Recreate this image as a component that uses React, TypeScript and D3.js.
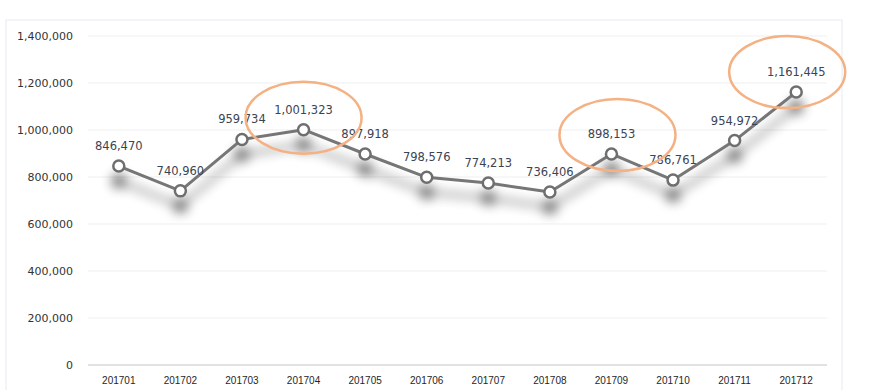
import * as d3 from "d3";

const months = [
  "201701", "201702", "201703", "201704", "201705", "201706",
  "201707", "201708", "201709", "201710", "201711", "201712",
];
const values = [
  846470, 740960, 959734, 1001323, 897918, 798576,
  774213, 736406, 898153, 786761, 954972, 1161445,
];
const yTicks = [0, 200000, 400000, 600000, 800000, 1000000, 1200000, 1400000];
const highlighted = ["201704", "201709", "201712"];

export default function App() {
  const width = 880;
  const height = 390;
  const plot = { left: 88, right: 827, top: 36, bottom: 365 };

  const x = d3.scaleBand().domain(months).range([plot.left, plot.right]);
  const y = d3.scaleLinear().domain([0, 1400000]).range([plot.bottom, plot.top]);
  const cx = (m: string) => (x(m) ?? 0) + x.bandwidth() / 2;
  const fmt = d3.format(",");

  const line = d3
    .line<number>()
    .x((_, i) => cx(months[i]))
    .y((d) => y(d));

  // ellipse placement around highlighted points (offset from the point)
  const ringOffset: Record<string, [number, number]> = {
    "201704": [0, -12],
    "201709": [6, -19],
    "201712": [-9, -20],
  };

  return (
    <svg
      width={width}
      height={height}
      style={{ position: "absolute", left: 0, top: 0, background: "#fff" }}
    >
      <defs>
        <filter id="shadow" x="-10%" y="-30%" width="120%" height="180%">
          <feGaussianBlur in="SourceAlpha" stdDeviation="6" />
          <feOffset dx="0" dy="15" result="blur" />
          <feComponentTransfer>
            <feFuncA type="linear" slope="0.6" />
          </feComponentTransfer>
        </filter>
      </defs>

      <rect x={6} y={20} width={836} height={400} fill="none" stroke="#e4ecf2" />

      {yTicks.map((t) => (
        <g key={t}>
          <line
            x1={plot.left}
            x2={plot.right}
            y1={y(t)}
            y2={y(t)}
            stroke={t === 0 ? "#d9d9d9" : "#efefef"}
            strokeWidth={t === 0 ? 1.5 : 1}
          />
          <text
            x={73}
            y={y(t)}
            dy="0.35em"
            textAnchor="end"
            fontFamily="DejaVu Sans"
            fontSize={11}
            fill="#333"
          >
            {fmt(t)}
          </text>
        </g>
      ))}

      {months.map((m) => (
        <text
          key={m}
          x={cx(m)}
          y={384}
          textAnchor="middle"
          fontFamily="Liberation Sans"
          fontSize={10}
          fill="#262626"
        >
          {m}
        </text>
      ))}

      <g filter="url(#shadow)">
        <path d={line(values) ?? ""} fill="none" stroke="#000" strokeWidth={3} />
        {values.map((v, i) => (
          <circle key={i} cx={cx(months[i])} cy={y(v)} r={7} fill="#000" />
        ))}
      </g>

      <path
        d={line(values) ?? ""}
        fill="none"
        stroke="#767676"
        strokeWidth={3}
        strokeLinejoin="round"
      />
      {values.map((v, i) => (
        <circle
          key={months[i]}
          cx={cx(months[i])}
          cy={y(v)}
          r={5.5}
          fill="#fff"
          stroke="#6e6e6e"
          strokeWidth={2.5}
        />
      ))}

      {values.map((v, i) => (
        <text
          key={`l-${months[i]}`}
          x={cx(months[i])}
          y={y(v) - 16}
          textAnchor="middle"
          fontFamily="DejaVu Sans"
          fontSize={11.5}
          fill="#3b4454"
        >
          {fmt(v)}
        </text>
      ))}

      {highlighted.map((m) => {
        const i = months.indexOf(m);
        const [ox, oy] = ringOffset[m];
        return (
          <ellipse
            key={`r-${m}`}
            cx={cx(m) + ox}
            cy={y(values[i]) + oy}
            rx={58}
            ry={36}
            fill="none"
            stroke="#f4b183"
            strokeWidth={2.5}
          />
        );
      })}
    </svg>
  );
}
